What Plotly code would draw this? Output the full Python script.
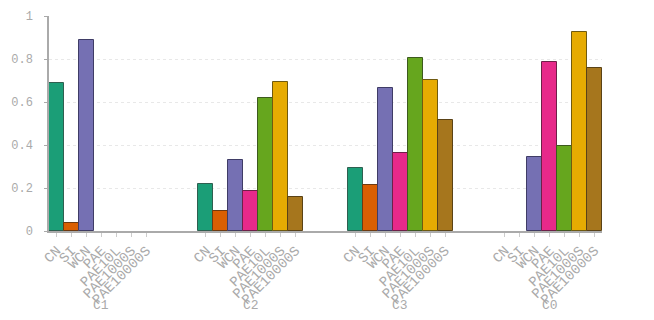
import plotly.graph_objects as go

# data
categories = ["CN", "SI", "WCN", "PAE", "PAE10L", "PAE1000S", "PAE10000S"]
groups = ["C1", "C2", "C3", "C0"]
c1_values = [0.687, 0.036, 0.888, None, None, None, None]
c2_values = [0.217, 0.093, 0.332, 0.185, 0.620, 0.694, 0.158]
c3_values = [0.293, 0.213, 0.667, 0.361, 0.806, 0.701, 0.515]
c0_values = [None, None, 0.344, 0.786, 0.397, 0.924, 0.757]
y_ticks = [0, 0.2, 0.4, 0.6, 0.8, 1]

colors = ["#1b9e77", "#d95f02", "#7570b3", "#e7298a", "#66a61e", "#e6ab02", "#a6761d"]
edges = ["#2f5f50", "#6e3a10", "#3f3c66", "#6e2048", "#3d5a1e", "#6f5a10", "#5a4216"]

all_values = [c1_values, c2_values, c3_values, c0_values]
gap = 3  # empty slots between groups
step = len(categories) + gap

fig = go.Figure()
tickvals, ticktext = [], []
for g, vals in enumerate(all_values):
    xs = [g * step + i for i in range(len(categories))]
    tickvals += xs
    ticktext += categories
    fig.add_trace(go.Bar(
        x=xs, y=vals, width=1,
        marker=dict(color=colors, line=dict(color=edges, width=1)),
        showlegend=False,
    ))
    fig.add_annotation(
        x=g * step + (len(categories) - 1) / 2, y=-0.345,
        xref="x", yref="paper", yanchor="middle", xanchor="center",
        text=groups[g], showarrow=False,
        font=dict(family="Liberation Mono", size=13, color="#aaa"),
    )

# page body has an 8px margin, so margins are shifted to compensate
fig.update_layout(
    width=654, height=320,
    margin=dict(l=41, r=60, t=8, b=97),
    plot_bgcolor="white", paper_bgcolor="white",
    font=dict(family="Liberation Mono", size=14, color="#aaa"),
    bargap=0,
)
fig.update_xaxes(
    range=[-0.5, (len(groups) - 1) * step + len(categories) - 0.5],
    tickmode="array", tickvals=tickvals, ticktext=ticktext, tickangle=-45,
    showline=True, linecolor="#aaa", linewidth=1.5,
    ticks="outside", ticklen=4, tickcolor="#ccc",
    showgrid=False, zeroline=False, automargin=False,
)
fig.update_yaxes(
    range=[0, 1], tickvals=y_ticks, ticktext=["0", "0.2", "0.4", "0.6", "0.8", "1"],
    tickfont=dict(size=12),
    showline=True, linecolor="#aaa", linewidth=1.5,
    ticks="outside", ticklen=3, tickcolor="#aaa", ticklabelstandoff=9,
    showgrid=True, gridcolor="#e8e8e8", griddash="dot", gridwidth=1,
    zeroline=False, automargin=False,
)

fig.write_html("out.html")
